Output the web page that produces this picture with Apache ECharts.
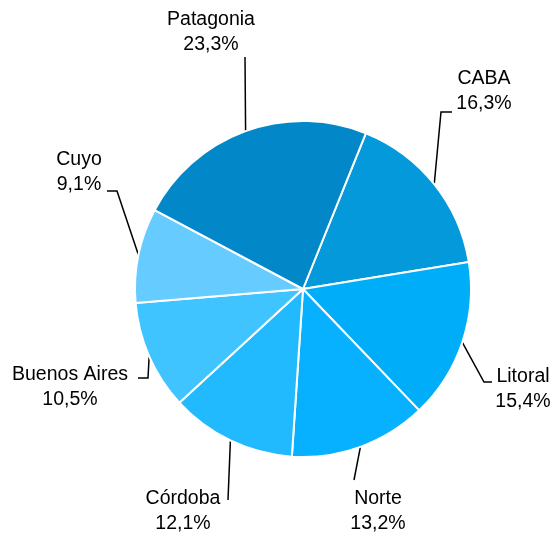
<!DOCTYPE html>
<html>
<head>
<meta charset="utf-8">
<script src="https://cdn.jsdelivr.net/npm/echarts@6/dist/echarts.min.js"></script>
<style>html,body{margin:0;padding:0;background:#fff}#c{width:554px;height:539px}</style>
</head>
<body>
<div id="c"></div>
<script>
// Data
const regions = ['CABA', 'Litoral', 'Norte', 'Córdoba', 'Buenos Aires', 'Cuyo', 'Patagonia'];
const shares = [16.3, 15.4, 13.2, 12.1, 10.5, 9.1, 23.3];
const colors = ['#0399DB', '#00ADF8', '#08B1FF', '#22BAFF', '#40C4FF', '#66CCFF', '#0288C8'];

// Label placement (text block centre) and leader-line bend points
const labelPos = [[484, 91], [523, 389], [378, 511], [183, 511], [70, 387], [79, 172], [211, 32]];
const linePts = [
  [[441, 112], [452, 112]],
  [[484, 382], [492, 382]],
  [[354, 480]],
  [[228, 500]],
  [[148, 378], [138, 378]],
  [[117, 191], [107, 191]],
  [[245, 57]]
];

const chart = echarts.init(document.getElementById('c'), null, {renderer: 'canvas'});
chart.setOption({
  animation: false,
  backgroundColor: '#ffffff',
  series: [{
    type: 'pie',
    center: [303, 289],
    radius: 168,
    startAngle: 68,
    clockwise: true,
    avoidLabelOverlap: false,
    data: regions.map((r, i) => ({name: r, value: shares[i], itemStyle: {color: colors[i]}})),
    itemStyle: {borderColor: '#ffffff', borderWidth: 2},
    label: {
      show: true,
      position: 'outside',
      formatter: p => p.name + '\n' + String(p.value).replace('.', ',') + '%',
      fontFamily: 'Liberation Sans, Arial, sans-serif',
      fontSize: 19.5,
      lineHeight: 25,
      color: '#000000',
      align: 'center'
    },
    labelLine: {show: true, length: 20, length2: 10, lineStyle: {color: '#000000', width: 1.5}},
    labelLayout: function (params) {
      const i = params.dataIndex;
      const start = params.labelLinePoints ? params.labelLinePoints[0] : null;
      const out = {x: labelPos[i][0], y: labelPos[i][1], align: 'center', verticalAlign: 'middle'};
      if (start) out.labelLinePoints = [start].concat(linePts[i]);
      return out;
    },
    emphasis: {disabled: true}
  }]
});
</script>
</body>
</html>
